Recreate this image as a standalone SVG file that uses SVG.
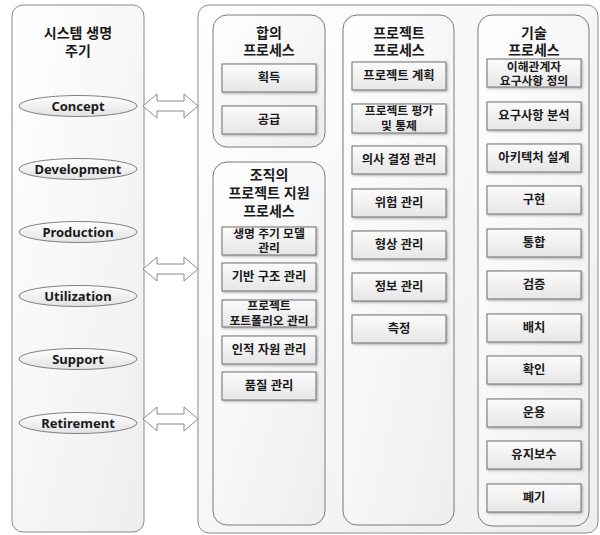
<svg xmlns="http://www.w3.org/2000/svg" width="600" height="535" viewBox="0 0 600 535">
<defs>
<linearGradient id="gPanel" x1="0" y1="0" x2="1" y2="1">
<stop offset="0" stop-color="#ffffff"/><stop offset="1" stop-color="#eeeeee"/>
</linearGradient>
<linearGradient id="gBox" x1="0" y1="0" x2="0" y2="1">
<stop offset="0" stop-color="#fbfbfb"/><stop offset="1" stop-color="#e6e6e6"/>
</linearGradient>
<linearGradient id="gEll" x1="0" y1="0" x2="0" y2="1">
<stop offset="0" stop-color="#ffffff"/><stop offset="1" stop-color="#e2e2e2"/>
</linearGradient>
<filter id="sh" x="-10%" y="-20%" width="125%" height="150%">
<feDropShadow dx="1.2" dy="1.2" stdDeviation="0.8" flood-color="#000" flood-opacity="0.3"/>
</filter>
</defs>
<style>
.panel{fill:url(#gPanel);stroke:#8a8a8a;stroke-width:1}
.inner{fill:url(#gPanel);stroke:#7a7a7a;stroke-width:1}
.box{fill:url(#gBox);stroke:#6e6e6e;stroke-width:1;filter:url(#sh)}
.ell{fill:url(#gEll);stroke:#808080;stroke-width:1}
.arr{fill:#ffffff;stroke:#8a8a8a;stroke-width:1}
text{font-family:"Liberation Sans","Noto Sans CJK KR",sans-serif;font-weight:bold;fill:#1a1a1a;text-anchor:middle;dominant-baseline:central}
.t{font-size:14px}
.b{font-size:12.3px}
.b2{font-size:11.8px}
.e{font-size:13px;font-family:"Noto Sans",sans-serif}
</style>

<g id="lifecycle">
<rect class="panel" x="12" y="5" width="132" height="527" rx="11"/>
<text class="t" x="78" y="33">시스템 생명<tspan x="78" dy="18">주기</tspan></text>
</g>
<g id="concept"><ellipse class="ell" cx="78" cy="106" rx="59" ry="10.5"/><text class="e" x="78" y="106">Concept</text></g>
<g id="development"><ellipse class="ell" cx="78" cy="169" rx="59" ry="10.5"/><text class="e" x="78" y="169">Development</text></g>
<g id="production"><ellipse class="ell" cx="78" cy="232" rx="59" ry="10.5"/><text class="e" x="78" y="232">Production</text></g>
<g id="utilization"><ellipse class="ell" cx="78" cy="296" rx="59" ry="10.5"/><text class="e" x="78" y="296">Utilization</text></g>
<g id="support"><ellipse class="ell" cx="78" cy="359" rx="59" ry="10.5"/><text class="e" x="78" y="359">Support</text></g>
<g id="retirement"><ellipse class="ell" cx="78" cy="423" rx="59" ry="10.5"/><text class="e" x="78" y="423">Retirement</text></g>

<g id="processes">
<rect class="panel" x="198" y="5" width="400" height="528" rx="11"/>
</g>

<g id="connectors">
<path class="arr" d="M143,106 L157,94 L157,101 L184,101 L184,94 L198,106 L184,118 L184,111 L157,111 L157,118 Z"/>
<path class="arr" d="M143,269 L157,257 L157,264 L184,264 L184,257 L198,269 L184,281 L184,274 L157,274 L157,281 Z"/>
<path class="arr" d="M143,419 L157,407 L157,414 L184,414 L184,407 L198,419 L184,431 L184,424 L157,424 L157,431 Z"/>
</g>

<g id="agreement">
<rect class="inner" x="213" y="15" width="112" height="132" rx="14"/>
<text class="t" x="269" y="33">합의<tspan x="269" dy="17">프로세스</tspan></text>
</g>
<g id="acquisition"><rect class="box" x="222" y="64" width="94" height="28"/><text class="b" x="269" y="78">획득</text></g>
<g id="supply"><rect class="box" x="222" y="106" width="94" height="28"/><text class="b" x="269" y="120">공급</text></g>

<g id="org-support">
<rect class="inner" x="213" y="162" width="112" height="363" rx="14"/>
<text class="t" x="269" y="175">조직의<tspan x="269" dy="18">프로젝트 지원</tspan><tspan x="269" dy="18">프로세스</tspan></text>
</g>
<g id="lcm"><rect class="box" x="222" y="227" width="94" height="28"/><text class="b2" x="269" y="234">생명 주기 모델<tspan x="269" dy="14">관리</tspan></text></g>
<g id="infra"><rect class="box" x="222" y="263" width="94" height="28"/><text class="b" x="269" y="277">기반 구조 관리</text></g>
<g id="portfolio"><rect class="box" x="222" y="300" width="94" height="27"/><text class="b2" x="269" y="306">프로젝트<tspan x="269" dy="15">포트폴리오 관리</tspan></text></g>
<g id="hr"><rect class="box" x="222" y="336" width="94" height="28"/><text class="b" x="269" y="350">인적 자원 관리</text></g>
<g id="quality"><rect class="box" x="222" y="372" width="94" height="28"/><text class="b" x="269" y="386">품질 관리</text></g>

<g id="project">
<rect class="inner" x="343" y="15" width="111" height="510" rx="14"/>
<text class="t" x="399" y="33">프로젝트<tspan x="399" dy="17">프로세스</tspan></text>
</g>
<g id="planning"><rect class="box" x="352" y="62" width="94" height="28"/><text class="b" x="399" y="76">프로젝트 계획</text></g>
<g id="assessment"><rect class="box" x="352" y="104" width="94" height="29"/><text class="b2" x="399" y="111">프로젝트 평가<tspan x="399" dy="15">및 통제</tspan></text></g>
<g id="decision"><rect class="box" x="352" y="146" width="94" height="28"/><text class="b" x="399" y="160">의사 결정 관리</text></g>
<g id="risk"><rect class="box" x="352" y="189" width="94" height="28"/><text class="b" x="399" y="203">위험 관리</text></g>
<g id="config"><rect class="box" x="352" y="231" width="94" height="28"/><text class="b" x="399" y="245">형상 관리</text></g>
<g id="info"><rect class="box" x="352" y="273" width="94" height="28"/><text class="b" x="399" y="287">정보 관리</text></g>
<g id="measure"><rect class="box" x="352" y="315" width="94" height="28"/><text class="b" x="399" y="329">측정</text></g>

<g id="technical">
<rect class="inner" x="478" y="15" width="111" height="511" rx="14"/>
<text class="t" x="534" y="33">기술<tspan x="534" dy="17">프로세스</tspan></text>
</g>
<g id="stakeholder"><rect class="box" x="487" y="59" width="94" height="28"/><text class="b2" x="534" y="67">이해관계자<tspan x="534" dy="14">요구사항 정의</tspan></text></g>
<g id="analysis"><rect class="box" x="487" y="102" width="94" height="28"/><text class="b" x="534" y="116">요구사항 분석</text></g>
<g id="arch"><rect class="box" x="487" y="144" width="94" height="28"/><text class="b" x="534" y="158">아키텍처 설계</text></g>
<g id="impl"><rect class="box" x="487" y="186" width="94" height="28"/><text class="b" x="534" y="200">구현</text></g>
<g id="integ"><rect class="box" x="487" y="229" width="94" height="28"/><text class="b" x="534" y="243">통합</text></g>
<g id="verif"><rect class="box" x="487" y="271" width="94" height="28"/><text class="b" x="534" y="285">검증</text></g>
<g id="transit"><rect class="box" x="487" y="314" width="94" height="28"/><text class="b" x="534" y="328">배치</text></g>
<g id="valid"><rect class="box" x="487" y="356" width="94" height="28"/><text class="b" x="534" y="370">확인</text></g>
<g id="oper"><rect class="box" x="487" y="399" width="94" height="28"/><text class="b" x="534" y="413">운용</text></g>
<g id="maint"><rect class="box" x="487" y="441" width="94" height="28"/><text class="b" x="534" y="455">유지보수</text></g>
<g id="disposal"><rect class="box" x="487" y="484" width="94" height="28"/><text class="b" x="534" y="498">폐기</text></g>
</svg>
